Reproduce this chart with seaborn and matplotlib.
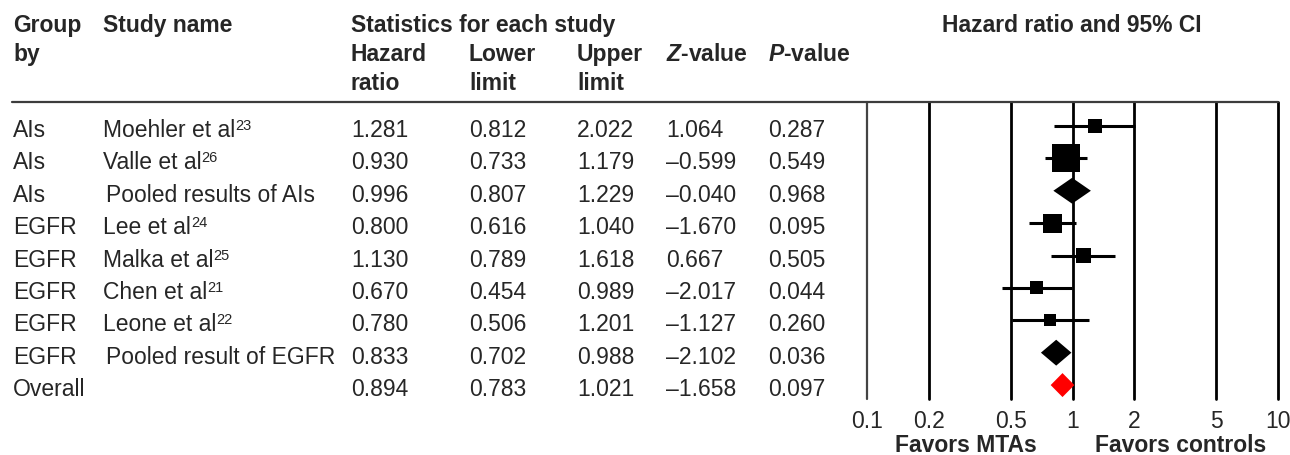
import matplotlib
matplotlib.use("Agg")
import matplotlib.pyplot as plt
import matplotlib.transforms as mtransforms
from matplotlib.lines import Line2D
import seaborn as sns
import pandas as pd

# table data
groups = ["AIs", "AIs", "AIs", "EGFR", "EGFR", "EGFR", "EGFR", "EGFR", "Overall"]
studies = ["Moehler et al", "Valle et al", "Pooled results of AIs", "Lee et al",
           "Malka et al", "Chen et al", "Leone et al", "Pooled result of EGFR", ""]
refs = ["23", "26", "", "24", "25", "21", "22", "", ""]
hazard = [1.281, 0.930, 0.996, 0.800, 1.130, 0.670, 0.780, 0.833, 0.894]
lower = [0.812, 0.733, 0.807, 0.616, 0.789, 0.454, 0.506, 0.702, 0.783]
upper = [2.022, 1.179, 1.229, 1.040, 1.618, 0.989, 1.201, 0.988, 1.021]
zvals = [1.064, -0.599, -0.040, -1.670, 0.667, -2.017, -1.127, -2.102, -1.658]
pvals = [0.287, 0.549, 0.968, 0.095, 0.505, 0.044, 0.260, 0.036, 0.097]
kind = ["study", "study", "pooled", "study", "study", "study", "study", "pooled", "overall"]
# box side (px) for each study marker, roughly by weight
box_px = [14, 28, 0, 19, 15, 13, 12, 0, 0]

ticks = [0.1, 0.2, 0.5, 1, 2, 5, 10]
tick_labels = ["0.1", "0.2", "0.5", "1", "2", "5", "10"]

sns.set_style("white")
plt.rcParams["font.family"] = ["Liberation Sans", "DejaVu Sans"]
plt.rcParams["mathtext.fontset"] = "custom"
plt.rcParams["mathtext.rm"] = "Liberation Sans"
plt.rcParams["mathtext.it"] = "Liberation Sans:italic"
plt.rcParams["mathtext.bf"] = "Liberation Sans:bold"
plt.rcParams["mathtext.bfit"] = "Liberation Sans:italic:bold"

W, H = 1290, 456
FS = 16.5


def fx(px):
    return px / W


def fy(py):
    return 1 - py / H


fig = plt.figure(figsize=(W / 100, H / 100), dpi=100)
ax = fig.add_axes([fx(867), fy(400), fx(1278) - fx(867), fy(103) - fy(400)])
ax.set_xscale("log")
ax.set_xlim(0.1, 10)
ax.set_ylim(8.43, -0.74)

rows = list(range(len(hazard)))
df = pd.DataFrame({"hr": hazard, "lo": lower, "hi": upper, "row": rows,
                   "kind": kind, "area": [(b * 0.72) ** 2 for b in box_px]})

for t in ticks:
    ax.axvline(t, color="#444444" if t == 0.1 else "black",
               lw=1.6 if t == 0.1 else 2, clip_on=False, zorder=1)

st = df[df.kind == "study"]
ax.hlines(st.row, st.lo, st.hi, color="black", lw=2.2, zorder=2)
sns.scatterplot(data=st, x="hr", y="row", size="area",
                sizes=(st.area.min(), st.area.max()),
                size_norm=(st.area.min(), st.area.max()),
                marker="s", color="black", linewidth=0, legend=False,
                ax=ax, zorder=3)

for _, r in df[df.kind != "study"].iterrows():
    h = 0.4 if r.kind == "pooled" else 0.37
    col = "black" if r.kind == "pooled" else "#ff0000"
    ax.fill([r.lo, r.hr, r.hi, r.hr], [r.row, r.row - h, r.row, r.row + h],
            color=col, lw=0, zorder=3)

ax.set_xticks(ticks)
ax.set_xticklabels(tick_labels)
ax.minorticks_off()
ax.tick_params(axis="x", length=0, pad=7, labelsize=FS)
ax.set_yticks([])
ax.set_xlabel("")
ax.set_ylabel("")
for s in ax.spines.values():
    s.set_visible(False)

# header
fig.add_artist(Line2D([fx(12), fx(1278)], [fy(102.5), fy(102.5)],
                      color="#3c3c3c", lw=1.6))
hdr = dict(fontsize=FS, fontweight="bold", va="baseline")
fig.text(fx(13), fy(32), "Group", **hdr)
fig.text(fx(13), fy(61), "by", **hdr)
fig.text(fx(103), fy(32), "Study name", **hdr)
fig.text(fx(351), fy(32), "Statistics for each study", **hdr)
fig.text(fx(351), fy(61), "Hazard", **hdr)
fig.text(fx(351), fy(90), "ratio", **hdr)
fig.text(fx(469), fy(61), "Lower", **hdr)
fig.text(fx(469), fy(90), "limit", **hdr)
fig.text(fx(577), fy(61), "Upper", **hdr)
fig.text(fx(577), fy(90), "limit", **hdr)
fig.text(fx(666), fy(61), r"$\mathbfit{Z}$-value", **hdr)
fig.text(fx(768), fy(61), r"$\mathbfit{P}$-value", **hdr)
fig.text(fx(1072), fy(32), "Hazard ratio and 95% CI", ha="center", **hdr)

# table rows
tr = mtransforms.blended_transform_factory(fig.transFigure, ax.transData)
off = 10 / 32.4
sup_shift = mtransforms.ScaledTranslation(0, 7 / 100, fig.dpi_scale_trans)


def fmt(v):
    return f"{v:.3f}".replace("-", "\u2013")


fig.canvas.draw()
renderer = fig.canvas.get_renderer()

for i in rows:
    y = i + off
    fig.text(fx(13), y, groups[i], transform=tr, fontsize=FS, va="baseline")
    if studies[i]:
        xs = 106 if kind[i] == "pooled" else 103
        t = fig.text(fx(xs), y, studies[i], transform=tr, fontsize=FS, va="baseline")
        if refs[i]:
            bb = t.get_window_extent(renderer)
            xend = fig.transFigure.inverted().transform((bb.x1, 0))[0]
            fig.text(xend, y, refs[i], fontsize=10.5,
                     transform=tr + sup_shift, va="baseline")
    for xp, v in zip([351, 469, 577, 666, 768],
                     [hazard[i], lower[i], upper[i], zvals[i], pvals[i]]):
        fig.text(fx(xp), y, fmt(v), transform=tr, fontsize=FS, va="baseline")

fig.text(fx(966), fy(452), "Favors MTAs", ha="center", **hdr)
fig.text(fx(1181), fy(452), "Favors controls", ha="center", **hdr)

fig.savefig("out.png", dpi=100)
